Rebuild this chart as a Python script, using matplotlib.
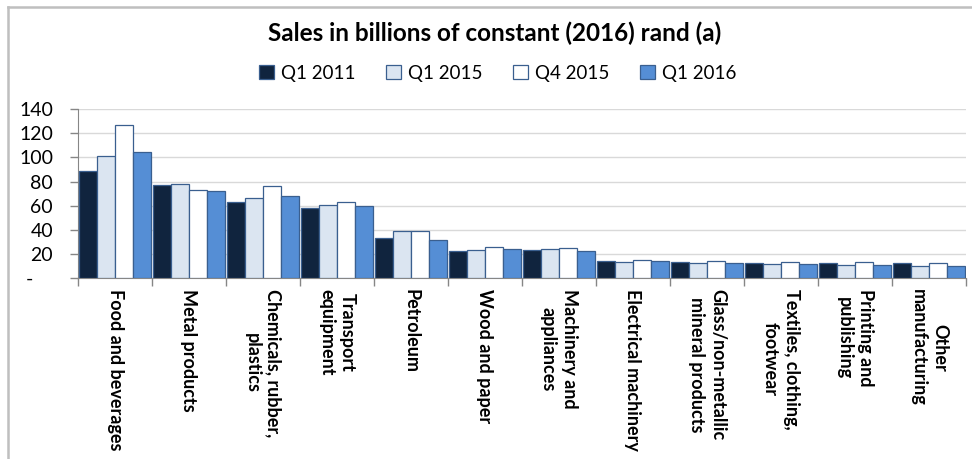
import numpy as np
import matplotlib.pyplot as plt
from matplotlib.lines import Line2D

categories = [
    "Food and beverages", "Metal products", "Chemicals, rubber,\nplastics",
    "Transport\nequipment", "Petroleum", "Wood and paper",
    "Machinery and\nappliances", "Electrical machinery",
    "Glass/non-metallic\nmineral products", "Textiles, clothing,\nfootwear",
    "Printing and\npublishing", "Other\nmanufacturing",
]
series_names = ["Q1 2011", "Q1 2015", "Q4 2015", "Q1 2016"]
q1_2011 = [88.5, 76.9, 62.8, 57.9, 33.5, 22.3, 23.1, 14.0, 13.5, 12.7, 12.9, 12.7]
q1_2015 = [100.9, 77.7, 66.2, 60.4, 39.1, 23.1, 24.0, 13.7, 12.4, 11.6, 10.7, 9.8]
q4_2015 = [126.5, 72.8, 76.6, 63.4, 39.1, 26.2, 24.8, 14.9, 14.0, 13.7, 13.5, 12.4]
q1_2016 = [104.7, 72.2, 67.8, 59.8, 31.4, 24.0, 22.3, 14.3, 12.4, 11.6, 10.7, 9.8]
yticks = [0, 20, 40, 60, 80, 100, 120, 140]
ytick_labels = ["-    ", "20", "40", "60", "80", "100", "120", "140"]

colors = ["#10243E", "#DBE5F1", "#FFFFFF", "#558ED5"]
edge = "#3A5F8F"
font = ["Lato", "DejaVu Sans"]
plt.rcParams['font.family'] = font

W, H = 972, 459
fig = plt.figure(figsize=(W / 100, H / 100), dpi=100)

# outer frame (top and left edge visible)
fig.add_artist(Line2D([8 / W, 1.0], [1 - 7 / H, 1 - 7 / H], color="#BFBFBF", lw=1.8))
fig.add_artist(Line2D([8 / W, 8 / W], [0, 1 - 7 / H], color="#BFBFBF", lw=1.8))

ax = fig.add_axes([78 / W, (H - 278.3) / H, 888 / W, 169.3 / H])

x = np.arange(len(categories))
bw = 0.24
data = [q1_2011, q1_2015, q4_2015, q1_2016]
for i, (vals, c, name) in enumerate(zip(data, colors, series_names)):
    ax.bar(x + (i - 1.5) * bw, vals, bw, color=c, edgecolor=edge,
           linewidth=0.9, label=name, zorder=3)

ax.set_xlim(-0.5, len(categories) - 0.5)
ax.set_ylim(0, 140)
ax.set_yticks(yticks)
ax.set_yticklabels(ytick_labels, fontsize=14)
ax.yaxis.grid(True, color="#D9D9D9", lw=1)
ax.set_axisbelow(True)

ax.set_xticks(np.arange(len(categories) + 1) - 0.5)
ax.set_xticklabels([])
ax.tick_params(axis="x", length=6, color="#868686", width=1)
ax.tick_params(axis="y", length=6, color="#868686", width=1, pad=12)

for s in ["top", "right"]:
    ax.spines[s].set_visible(False)
for s in ["left", "bottom"]:
    ax.spines[s].set_color("#868686")

for xi, lab in zip(x, categories):
    ax.text(xi, -9, lab, rotation=270, ha="center", va="top",
            multialignment="center", fontsize=13, fontweight="bold",
            linespacing=1.3, transform=ax.transData, clip_on=False)

fig.text(0.509, 1 - 33 / H, "Sales in billions of constant (2016) rand (a)",
         ha="center", va="center", fontsize=17.5, fontweight="bold")

fig.legend(loc="center", bbox_to_anchor=(0.512, 1 - 73 / H), ncol=4,
           frameon=False, fontsize=13.5, handlelength=0.8, handleheight=0.8,
           handletextpad=0.4, columnspacing=1.6)

fig.savefig("out.png", dpi=100)
